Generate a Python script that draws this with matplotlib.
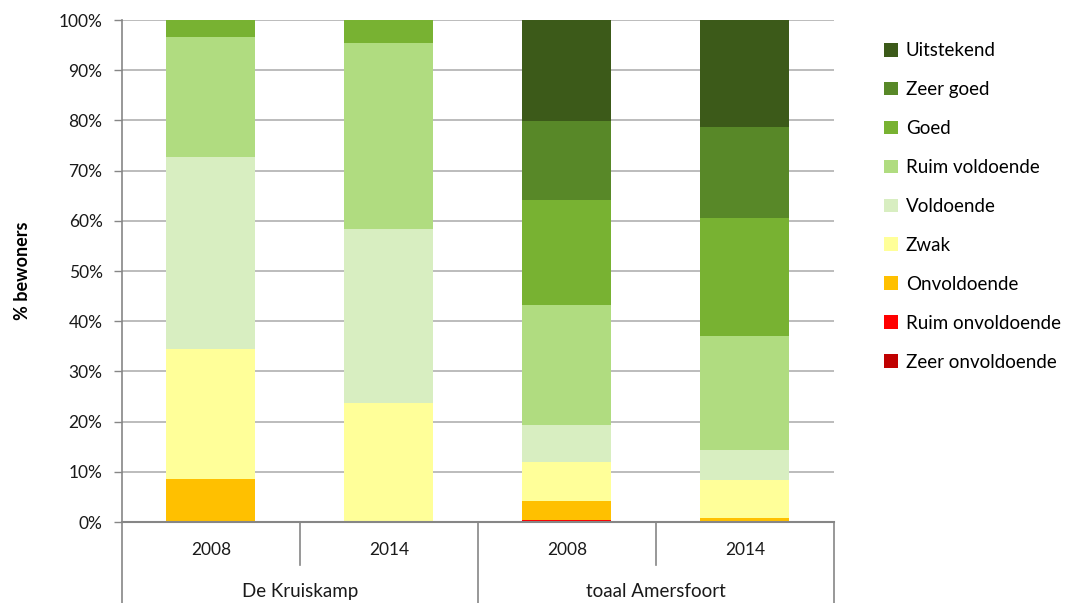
import matplotlib
matplotlib.use("Agg")
import matplotlib.pyplot as plt
import matplotlib.transforms as mtransforms
from matplotlib.patches import Patch
import numpy as np

plt.rcParams['font.family'] = ['Lato', 'DejaVu Sans']

years = ["2008", "2014", "2008", "2014"]
groups = ["De Kruiskamp", "toaal Amersfoort"]

categories = ["Zeer onvoldoende", "Ruim onvoldoende", "Onvoldoende", "Zwak",
              "Voldoende", "Ruim voldoende", "Goed", "Zeer goed", "Uitstekend"]
colors = ["#C00000", "#FF0000", "#FFC000", "#FFFF99",
          "#D8EEC1", "#B0DC80", "#78B232", "#588828", "#3C5A19"]

zeer_onvoldoende = [0.0, 0.0, 0.1, 0.0]
ruim_onvoldoende = [0.0, 0.0, 0.3, 0.0]
onvoldoende      = [8.6, 0.0, 3.7, 0.8]
zwak             = [25.9, 23.7, 7.8, 7.5]
voldoende        = [38.2, 34.7, 7.5, 6.0]
ruim_voldoende   = [23.9, 37.0, 23.9, 22.7]
goed             = [3.4, 4.6, 20.8, 23.6]
zeer_goed        = [0.0, 0.0, 15.8, 18.1]
uitstekend       = [0.0, 0.0, 20.1, 21.3]

series = [zeer_onvoldoende, ruim_onvoldoende, onvoldoende, zwak, voldoende,
          ruim_voldoende, goed, zeer_goed, uitstekend]

fig = plt.figure(figsize=(10.68, 6.03), dpi=100)
ax = fig.add_axes([0.1142, 0.1343, 0.6667, 0.8325])

x = np.arange(len(years))
bottom = np.zeros(len(years))
handles = []
for name, vals, col in zip(categories, series, colors):
    vals = np.array(vals)
    ax.bar(x, vals, 0.5, bottom=bottom, color=col, edgecolor='none', zorder=3)
    bottom += vals
    handles.append(Patch(facecolor=col, edgecolor='none', label=name))

ax.set_xlim(-0.5, 3.5)
ax.set_ylim(0, 100)
ax.set_yticks(np.arange(0, 101, 10))
ax.set_yticklabels([f"{v}%" for v in range(0, 101, 10)], fontsize=12.5, color='#1a1a1a')
ax.yaxis.grid(True, color='#B0B0B0', linewidth=1.2, zorder=0)
ax.set_axisbelow(True)
ax.tick_params(axis='y', length=6, width=1, color='#868686', pad=8)
ax.set_xticks([])
for s in ['top', 'right']:
    ax.spines[s].set_visible(False)
ax.spines['left'].set_color('#868686')
ax.spines['bottom'].set_color('#868686')
ax.spines['left'].set_linewidth(1.2)
ax.spines['bottom'].set_linewidth(1.5)
ax.spines['bottom'].set_zorder(5)

ax.set_ylabel("% bewoners", fontsize=13, fontweight='bold', labelpad=20)

trans = mtransforms.blended_transform_factory(ax.transData, ax.transAxes)
seps = [(-0.5, -0.161), (0.5, -0.086), (1.5, -0.161), (2.5, -0.086), (3.5, -0.161)]
for xs, yend in seps:
    ax.plot([xs, xs], [0, yend], transform=trans, color='#868686', lw=1.2, clip_on=False)

for xi, yr in zip(x, years):
    ax.text(xi, -0.056, yr, transform=trans, ha='center', va='center', fontsize=12.5, color='#1a1a1a')
for gi, g in enumerate(groups):
    ax.text(0.5 + 2 * gi, -0.138, g, transform=trans, ha='center', va='center', fontsize=13.5, color='#1a1a1a')

leg = fig.legend(handles=handles[::-1], loc='upper left', bbox_to_anchor=(0.812, 0.958),
                 frameon=False, fontsize=13.5, handlelength=0.75, handleheight=0.75,
                 handletextpad=0.4, labelspacing=1.17)

fig.savefig("out.png", dpi=100)
